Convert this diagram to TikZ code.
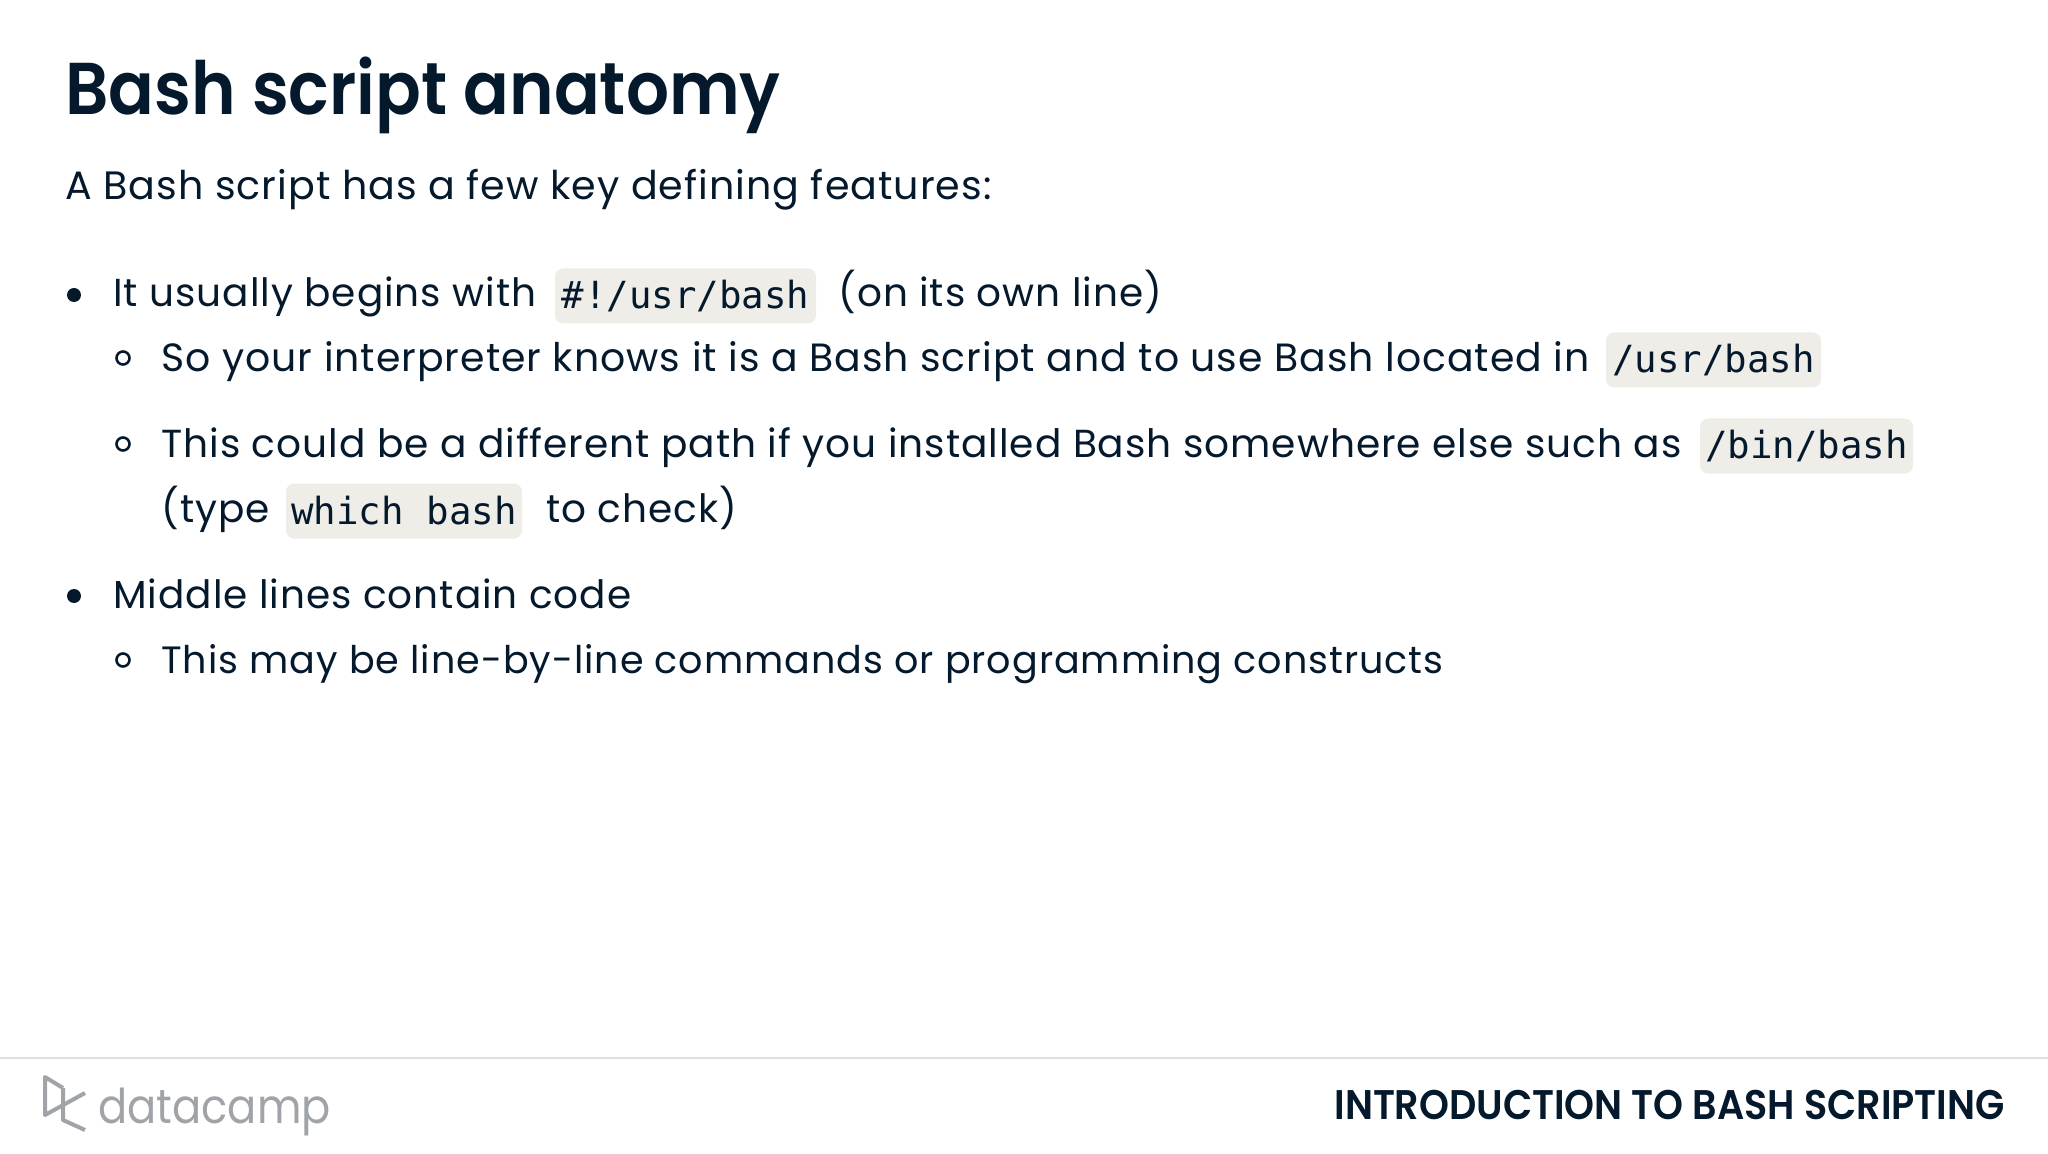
\documentclass[tikz,border=0pt]{standalone}
\usepackage{fontspec}
\setmainfont[LetterSpace=2.5]{Poppins}
\setmonofont{DejaVu Sans Mono}
\newfontfamily\headfont[FakeStretch=0.92]{Poppins SemiBold}
\newfontfamily\brandfont[FakeStretch=0.9]{Poppins}
\usetikzlibrary{positioning}
\definecolor{inkblue}{HTML}{05192D}
\definecolor{pillgrey}{HTML}{EFEDE8}
\definecolor{logogrey}{HTML}{A0A4A8}
\definecolor{rulegrey}{HTML}{E0E0DE}
\tikzset{
    txt/.style={anchor=base west, inner sep=0pt, text=inkblue, font=\fontsize{19.5}{23}\selectfont},
    pill/.style={anchor=center, fill=pillgrey, rounded corners=4pt, inner sep=0pt, text=inkblue,
        minimum height=27.5pt, font=\ttfamily\fontsize{18.7}{22}\selectfont},
    bigdot/.style={circle, fill=inkblue, inner sep=0pt, minimum size=7pt},
    ringdot/.style={circle, draw=inkblue, line width=1.3pt, inner sep=0pt, minimum size=6.5pt},
}
\begin{document}
\begin{tikzpicture}[x=0.5pt, y=-0.5pt]
    \useasboundingbox (0, 0) rectangle (2048, 1154);
    % heading
    \node[txt, font=\headfont\fontsize{36.7}{42}\selectfont] (title) at (65, 115) {Bash script anatomy};
    \node[txt, font=\fontsize{19.8}{23}\selectfont] (intro) at (65, 200) {A Bash script has a few key defining features:};
    % first bullet
    \node[bigdot] (b1) at (74, 295) {};
    \node[txt] (t1) at (113, 307) {It usually begins with};
    \node[pill, minimum width=130.5pt] (c1) at (685.5, 296) {\#!/usr/bash};
    \node[txt] (t1b) at (838, 307) {(on its own line)};
    \node[ringdot] (r1) at (123, 358) {};
    \node[txt, font=\fontsize{19.7}{23}\selectfont] (t2) at (161, 372) {So your interpreter knows it is a Bash script and to use Bash located in};
    \node[pill, minimum width=107.5pt] (c2) at (1713.5, 360) {/usr/bash};
    \node[ringdot] (r2) at (123, 444) {};
    \node[txt, font=\fontsize{19.55}{23}\selectfont] (t3) at (161, 458) {This could be a different path if you installed Bash somewhere else such as};
    \node[pill, minimum width=106.5pt] (c3) at (1806.5, 446) {/bin/bash};
    \node[txt] (t4) at (161, 522) {(type};
    \node[pill, minimum width=118pt] (c4) at (404, 511) {which bash};
    \node[txt] (t4b) at (546, 522) {to check)};
    % second bullet
    \node[bigdot] (b2) at (74, 596) {};
    \node[txt] (t5) at (113, 608) {Middle lines contain code};
    \node[ringdot] (r3) at (123, 660) {};
    \node[txt, font=\fontsize{19.05}{23}\selectfont] (t6) at (161, 673) {This may be line-by-line commands or programming constructs};
    % footer
    \coordinate (ruleL) at (0, 1058);
    \coordinate (ruleR) at (2048, 1058);
    \draw[rulegrey, line width=1.2pt] (ruleL) -- (ruleR);
    \draw[logogrey, line width=2pt, line join=round] (63, 1088) -- (45, 1077) -- (45, 1115) -- (85, 1093);
    \draw[logogrey, line width=2pt, line join=round] (63, 1088) -- (63, 1120) -- (85, 1130);
    \node[txt, text=logogrey, font=\brandfont\fontsize{24}{28}\selectfont] (brand) at (98, 1123) {datacamp};
    \node[anchor=base east, inner sep=0pt, text=inkblue, font=\headfont\fontsize{20.7}{23}\selectfont] (course) at (2005, 1119) {INTRODUCTION TO BASH SCRIPTING};
\end{tikzpicture}
\end{document}
